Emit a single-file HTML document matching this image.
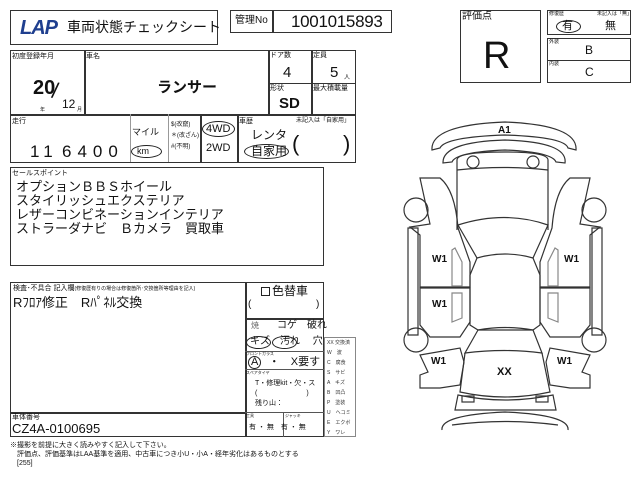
<!DOCTYPE html>
<html><head><meta charset="utf-8"><style>
body{margin:0;width:640px;height:480px;background:#fff;position:relative;overflow:hidden;font-family:"Liberation Sans","Noto Sans CJK JP",sans-serif;color:#111}
.a{position:absolute;box-sizing:border-box}
.b{border:1.5px solid #333}
.t{position:absolute;white-space:nowrap;line-height:1}
.s{font-size:7px}
</style></head><body>
<!-- title -->
<div class="a b" style="left:10px;top:10px;width:208px;height:35px"></div>
<div class="t" style="left:20px;top:18px;font-size:20px;font-weight:bold;font-style:italic;color:#1f3f8f;letter-spacing:-1px">LAP</div>
<div class="t" style="left:67px;top:20px;font-size:14px">車両状態チェックシート</div>
<div class="a b" style="left:230px;top:10px;width:162px;height:23px"></div>
<div class="a" style="left:272px;top:10px;width:1.5px;height:23px;background:#333"></div>
<div class="t" style="left:235px;top:16px;font-size:10px">管理No</div>
<div class="t" style="left:291px;top:13px;font-size:17px;letter-spacing:-0.3px">1001015893</div>
<!-- main table -->
<div class="a b" style="left:10px;top:50px;width:346px;height:113px"></div>
<div class="a" style="left:10px;top:114px;width:346px;height:1.5px;background:#333"></div>
<div class="a" style="left:84px;top:50px;width:1.5px;height:64px;background:#333"></div>
<div class="a" style="left:268px;top:50px;width:1.5px;height:64px;background:#333"></div>
<div class="a" style="left:311px;top:50px;width:1.5px;height:64px;background:#333"></div>
<div class="a" style="left:268px;top:83px;width:88px;height:1px;background:#333"></div>
<div class="t s" style="left:12px;top:53px">初度登録年月</div>
<div class="t s" style="left:86px;top:53px">車名</div>
<div class="t s" style="left:270px;top:52px">ドア数</div>
<div class="t s" style="left:313px;top:52px">定員</div>
<div class="t s" style="left:270px;top:85px">形状</div>
<div class="t s" style="left:313px;top:85px">最大積載量</div>
<div class="t" style="left:33px;top:78px;font-size:20px;font-weight:bold">20</div>
<div class="t" style="left:52px;top:80px;font-size:22px;transform:rotate(10deg)">/</div>
<div class="t" style="left:62px;top:98px;font-size:12px">12</div>
<div class="t" style="left:40px;top:108px;font-size:5px">年</div><div class="t" style="left:77px;top:108px;font-size:5px">月</div>
<div class="t" style="left:157px;top:80px;font-size:15px;font-weight:bold">ランサー</div>
<div class="t" style="left:283px;top:65px;font-size:15px">4</div>
<div class="t" style="left:330px;top:65px;font-size:15px">5</div><div class="t" style="left:344px;top:75px;font-size:6px">人</div>
<div class="t" style="left:279px;top:96px;font-size:15px;font-weight:bold">SD</div>
<div class="a" style="left:130px;top:114px;width:1px;height:48px;background:#999"></div>
<div class="a" style="left:168px;top:114px;width:1px;height:48px;background:#999"></div>
<div class="a" style="left:200px;top:114px;width:1.5px;height:48px;background:#333"></div>
<div class="a" style="left:237px;top:114px;width:1.5px;height:48px;background:#333"></div>
<div class="t s" style="left:12px;top:118px">走行</div>
<div class="t" style="left:30px;top:143px;font-size:17px;letter-spacing:5px">11</div>
<div class="t" style="left:62px;top:143px;font-size:17px;letter-spacing:6px">6400</div>
<div class="t" style="left:132px;top:128px;font-size:9px">マイル</div>
<div class="a" style="left:131px;top:145px;width:31px;height:13px;border:1.3px solid #222;border-radius:50%"></div>
<div class="t" style="left:137px;top:147px;font-size:9px">km</div>
<div class="t" style="left:171px;top:120px;font-size:6px;line-height:11px">$(改竄)<br>＊(改ざん)<br>#(不明)</div>
<div class="a" style="left:202px;top:121px;width:33px;height:16px;border:1.3px solid #222;border-radius:50%"></div>
<div class="t" style="left:206px;top:124px;font-size:11px">4WD</div>
<div class="t" style="left:206px;top:143px;font-size:11px">2WD</div>
<div class="t s" style="left:239px;top:118px">車歴</div>
<div class="t" style="left:296px;top:118px;font-size:6px">未記入は「自家用」</div>
<div class="t" style="left:251px;top:129px;font-size:12px">レンタ</div>
<div class="a" style="left:244px;top:144px;width:45px;height:15px;border:1.3px solid #222;border-radius:50%"></div>
<div class="t" style="left:251px;top:145px;font-size:12px">自家用</div>
<div class="t" style="left:292px;top:133px;font-size:22px;font-weight:100">(</div>
<div class="t" style="left:343px;top:133px;font-size:22px">)</div>
<!-- sales point -->
<div class="a b" style="left:10px;top:167px;width:314px;height:99px"></div>
<div class="t s" style="left:12px;top:170px">セールスポイント</div>
<div class="t" style="left:16px;top:180px;font-size:13px;line-height:14px">オプションＢＢＳホイール<br>スタイリッシュエクステリア<br>レザーコンビネーションインテリア<br>ストラーダナビ　Ｂカメラ　買取車</div>
<!-- inspection -->
<div class="a b" style="left:10px;top:282px;width:314px;height:155px"></div>
<div class="a" style="left:245px;top:282px;width:1.5px;height:155px;background:#333"></div>
<div class="a" style="left:10px;top:412px;width:236px;height:1.5px;background:#333"></div>
<div class="t s" style="left:13px;top:285px">検査･不具合 記入欄<span style="font-size:5px">(修復歴有りの場合は修復箇所･交換箇所等理由を記入)</span></div>
<div class="t" style="left:13px;top:296px;font-size:13px">Rﾌﾛｱ修正　Rﾊﾟﾈﾙ交換</div>
<div class="t s" style="left:12px;top:414px">車体番号</div>
<div class="t" style="left:12px;top:422px;font-size:13px">CZ4A-0100695</div>
<div class="a" style="left:261px;top:287px;width:9px;height:9px;border:1.3px solid #222"></div>
<div class="t" style="left:272px;top:285px;font-size:12px">色替車</div>
<div class="t" style="left:248px;top:300px;font-size:10px">(</div><div class="t" style="left:316px;top:300px;font-size:10px">)</div>
<div class="a" style="left:245px;top:318px;width:79px;height:1.5px;background:#333"></div>
<div class="a" style="left:245px;top:351px;width:79px;height:1px;background:#555"></div>
<div class="a" style="left:245px;top:369px;width:79px;height:1px;background:#555"></div>
<div class="a" style="left:245px;top:412px;width:79px;height:1px;background:#555"></div>
<div class="a" style="left:283px;top:412px;width:1px;height:25px;background:#555"></div>
<div class="t" style="left:251px;top:322px;font-size:8px;color:#666">焼</div>
<div class="t" style="left:277px;top:321px;font-size:10px">コゲ　破れ</div>
<div class="a" style="left:246px;top:336px;width:25px;height:13px;border:1.2px solid #222;border-radius:50%"></div>
<div class="a" style="left:272px;top:336px;width:25px;height:13px;border:1.2px solid #222;border-radius:50%"></div>
<div class="t" style="left:250px;top:337px;font-size:10px">キズ　汚れ　 穴</div>
<div class="t" style="left:246px;top:352px;font-size:4px">フロントガラス</div>
<div class="a" style="left:248px;top:356px;width:13px;height:13px;border:1.2px solid #222;border-radius:50%"></div>
<div class="t" style="left:251px;top:357px;font-size:11px">A　・　X要す</div>
<div class="t" style="left:246px;top:371px;font-size:4px">スペアタイヤ</div>
<div class="t" style="left:255px;top:379px;font-size:7px;line-height:10px">T・修理kit・欠・ス<br>(　　　　　　　)<br>残り山：</div>
<div class="t" style="left:246px;top:414px;font-size:4px">工具</div><div class="t" style="left:285px;top:414px;font-size:4px">ジャッキ</div>
<div class="t" style="left:249px;top:424px;font-size:7px">有 ・ 無　有 ・ 無</div>
<!-- legend -->
<div class="a" style="left:324px;top:337px;width:32px;height:100px;border:1px solid #888;font-size:5px;line-height:10px;padding-left:2px;color:#333">XX 交換済<br>W　波<br>C　腐食<br>S　サビ<br>A　キズ<br>B　凹凸<br>P　塗装<br>U　ヘコミ<br>E　エクボ<br>Y　ワレ</div>
<div class="t" style="left:10px;top:441px;font-size:7px;line-height:9px">※撮影を前提に大きく読みやすく記入して下さい。<br>　評価点、評価基準はLAA基準を適用、中古車につき小U・小A・経年劣化はあるものとする<br>　[255]</div>
<!-- right -->
<div class="a b" style="left:460px;top:10px;width:81px;height:73px"></div>
<div class="t" style="left:462px;top:12px;font-size:10px">評価点</div>
<div class="t" style="left:483px;top:37px;font-size:38px">R</div>
<div class="a b" style="left:547px;top:10px;width:84px;height:25px"></div>
<div class="a b" style="left:547px;top:38px;width:84px;height:45px"></div>
<div class="a" style="left:547px;top:60px;width:84px;height:1px;background:#333"></div>
<div class="t" style="left:549px;top:12px;font-size:5px">修復歴</div><div class="t" style="left:597px;top:12px;font-size:5px">未記入は「無」</div>
<div class="a" style="left:556px;top:20px;width:25px;height:13px;border:1.2px solid #222;border-radius:50%"></div>
<div class="t" style="left:562px;top:21px;font-size:11px">有</div><div class="t" style="left:605px;top:21px;font-size:11px">無</div>
<div class="t" style="left:549px;top:40px;font-size:5px">外装</div><div class="t" style="left:585px;top:44px;font-size:12px">B</div>
<div class="t" style="left:549px;top:62px;font-size:5px">内装</div><div class="t" style="left:585px;top:66px;font-size:12px">C</div>
<svg class="a" style="left:0;top:0" width="640" height="480" fill="none" stroke="#333" stroke-width="1.2">
<path d="M432,150 Q430,125 505,122 Q578,125 576,150 L568,148 Q565,137 505,135 Q445,137 440,148 Z"/>
<path d="M443,163 Q442,142 505,140 Q568,142 565,163 L556,162 Q552,152 505,150 Q456,152 452,162 Z"/>
<path d="M457,230 L457,160 Q457,152 505,152 Q548,152 548,160 L548,230"/>
<path d="M457,170 Q505,165 548,170"/><circle cx="473" cy="162" r="6"/><circle cx="533" cy="162" r="6"/>
<path d="M458,225 Q505,210 548,225 L533,258 Q505,250 477,258 Z"/>
<path d="M477,258 L470,275 L470,325 L478,330 L533,330 L540,325 L540,275 L533,258"/>
<path d="M478,330 Q505,325 533,330 L542,353 Q505,348 465,353 Z"/>
<path d="M465,353 L460,392 Q505,402 550,392 L542,353"/>
<path d="M458,395 Q505,405 553,395 L556,410 L455,410 Z"/><rect x="462" y="396" width="12" height="6"/><rect x="536" y="396" width="12" height="6"/>
<path d="M442,430 Q440,415 505,412 Q570,415 568,430"/><path d="M452,425 Q505,418 558,425"/>
<g id="L"><circle cx="416" cy="210" r="12"/><circle cx="416" cy="340" r="12"/>
<path d="M420,178 L440,178 Q455,190 458,228 L470,262 L470,287 L420,287 L420,235 L410,227 L430,224 Z"/>
<path d="M420,288 L470,288 L470,322 L460,337 L430,337 L420,325 Z"/>
<path d="M408,228 L418,228 L418,335 L408,335 Z"/>
<path d="M420,355 L460,348 L464,362 L460,385 L440,388 L420,388 L420,375 L428,372 Z"/>
<path d="M455,248 L462,262 L462,286 L452,286 L452,250 Z" stroke="#888"/><path d="M452,293 L462,293 L462,318 L452,322 Z" stroke="#888"/></g>
<use href="#L" transform="translate(1010,0) scale(-1,1)"/>
</svg>
<div class="t" style="left:498px;top:126px;font-size:10px;font-weight:bold">A1</div>
<div class="t" style="left:432px;top:255px;font-size:10px;font-weight:bold">W1</div>
<div class="t" style="left:432px;top:300px;font-size:10px;font-weight:bold">W1</div>
<div class="t" style="left:431px;top:357px;font-size:10px;font-weight:bold">W1</div>
<div class="t" style="left:564px;top:255px;font-size:10px;font-weight:bold">W1</div>
<div class="t" style="left:557px;top:357px;font-size:10px;font-weight:bold">W1</div>
<div class="t" style="left:497px;top:367px;font-size:11px;font-weight:bold">XX</div>
</body></html>
